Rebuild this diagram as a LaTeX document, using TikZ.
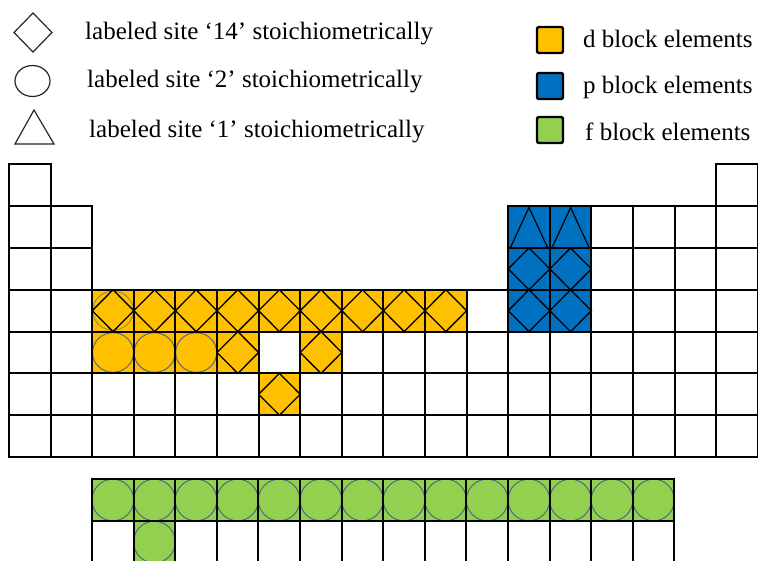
\documentclass[tikz,border=0pt]{standalone}
\usepackage{fontspec}
\setmainfont{Liberation Serif}
\definecolor{dyel}{HTML}{FFC000}
\definecolor{pblu}{HTML}{0070C0}
\definecolor{fgrn}{HTML}{92D050}
\definecolor{circc}{HTML}{4A6282}
\begin{document}
\begin{tikzpicture}[x=1pt,y=-1pt,
  gridline/.style={line width=2pt, black},
  dia/.style={line width=1.3pt, black, line join=miter},
  circs/.style={line width=0.9pt, circc},
  tri/.style={line width=1.2pt, black},
  legshape/.style={line width=1.2pt, black!85},
  legtext/.style={anchor=base west, inner sep=0pt, font=\fontsize{25}{30}\selectfont},
  legbox/.style={line width=2.4pt, black, rounded corners=2pt}]
\useasboundingbox (0,0) rectangle (758,560);

% ---------- legend (left)
\draw[legshape] (33,13) -- (52,32.5) -- (33,52) -- (14,32.5) -- cycle;
\draw[legshape] (32.5,81) ellipse [x radius=17.5pt, y radius=15.5pt];
\draw[legshape] (34,110) -- (54,144) -- (15,144) -- cycle;
\node[legtext] (t14) at (85,39.5) {labeled site ‘14’ stoichiometrically};
\node[legtext] (t2) at (87,87.5) {labeled site ‘2’ stoichiometrically};
\node[legtext] (t1) at (89,137) {labeled site ‘1’ stoichiometrically};

% ---------- legend (right)
\draw[legbox, fill=dyel] (537,27) rectangle (563,53);
\draw[legbox, fill=pblu] (537,73) rectangle (563,99);
\draw[legbox, fill=fgrn] (537,117) rectangle (563,143);
\node[legtext] (td) at (583,47.5) {d block elements};
\node[legtext] (tp) at (583,93.5) {p block elements};
\node[legtext] (tf) at (585,140) {f block elements};

% ---------- main table
\begin{scope}[shift={(9pt,-164.4pt)}, x=41.6pt, y=-41.8pt]
  % fills
  \foreach \c in {3,...,11} \fill[dyel] (\c-1,3) rectangle (\c,4);
  \foreach \c in {3,4,5,6,8} \fill[dyel] (\c-1,4) rectangle (\c,5);
  \fill[dyel] (6,5) rectangle (7,6);
  \foreach \r in {2,3,4} \foreach \c in {13,14} \fill[pblu] (\c-1,\r-1) rectangle (\c,\r);
  % circles
  \draw[circs, draw opacity=0.6] (2.5,3.5) ellipse [x radius=20.3pt, y radius=19.5pt];
  \foreach \c in {3,4,5} \draw[circs] (\c-0.5,4.5) ellipse [x radius=20.5pt, y radius=19.8pt];
  % diamonds
  \foreach \c/\r in {3/4,4/4,5/4,6/4,7/4,8/4,9/4,10/4,11/4,6/5,8/5,7/6,13/3,14/3,13/4,14/4}
    \draw[dia] (\c-0.5,\r-1) -- (\c,\r-0.5) -- (\c-0.5,\r) -- (\c-1,\r-0.5) -- cycle;
  % triangles
  \foreach \c in {13,14}
    \draw[tri] (\c-0.5,1.03) -- (\c-0.05,2) -- (\c-0.95,2) -- cycle;
  % grid
  \foreach \r in {4,...,7} \foreach \c in {1,...,18}
    \draw[gridline] (\c-1,\r-1) rectangle (\c,\r);
  \foreach \r in {2,3} \foreach \c in {1,2,13,14,15,16,17,18}
    \draw[gridline] (\c-1,\r-1) rectangle (\c,\r);
  \foreach \c in {1,18} \draw[gridline] (\c-1,0) rectangle (\c,1);
\end{scope}

% ---------- f block
\begin{scope}[shift={(92pt,-479pt)}, x=41.6pt, y=-42pt]
  \fill[fgrn] (0,0) rectangle (14,1);
  \fill[fgrn] (1,1) rectangle (2,2);
  \foreach \c in {1,...,14} \draw[circs] (\c-0.5,0.5) circle [radius=20.8pt];
  \draw[circs] (1.5,1.5) circle [radius=20.8pt];
  \foreach \r in {1,2} \foreach \c in {1,...,14}
    \draw[gridline] (\c-1,\r-1) rectangle (\c,\r);
\end{scope}
\end{tikzpicture}
\end{document}
